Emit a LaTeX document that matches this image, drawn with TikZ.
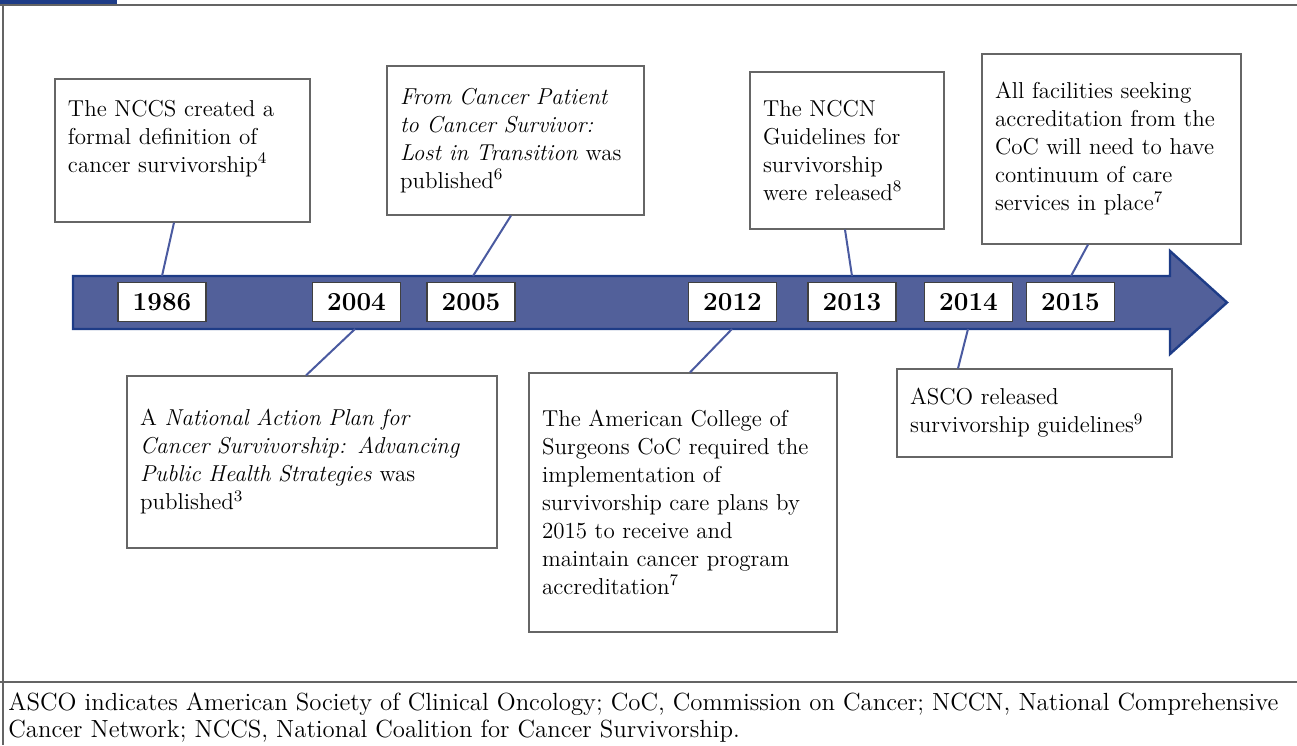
\documentclass[tikz,border=0pt]{standalone}
\usepackage{tikz}
\usetikzlibrary{calc}
\definecolor{tlfill}{RGB}{82,96,154}
\definecolor{tledge}{RGB}{30,60,135}
\definecolor{tllink}{RGB}{74,90,160}
\definecolor{framegray}{RGB}{100,100,100}

\begin{document}
\begin{tikzpicture}[x=0.5pt, y=-0.5pt,
    yearbox/.style={draw=black!75, fill=white, line width=0.6pt, minimum width=44pt,
      minimum height=19.5pt, inner sep=0pt, font=\fontsize{13}{15}\selectfont\bfseries},
    event/.style={draw=black!60, line width=0.6pt, align=left, inner xsep=6.5pt,
      inner ysep=0pt, font=\fontsize{11.5}{14}\selectfont},
    link/.style={tllink, line width=1pt}]
  \useasboundingbox (0,0) rectangle (1297,745);
  % frame
  \fill[tledge] (0,0) rectangle (117,5);
  \draw[framegray, line width=1pt] (0,5) -- (1297,5);
  \draw[framegray, line width=1pt] (3,5) -- (3,745);
  \draw[framegray, line width=1pt] (0,682) -- (1297,682);
  % timeline arrow
  \draw[fill=tlfill, draw=tledge, line width=1.2pt] (73,276) -- (1170,276) -- (1170,251)
    -- (1227,302.5) -- (1170,354) -- (1170,329) -- (73,329) -- cycle;
  \foreach \yr/\xx in {1986/162, 2004/356.5, 2005/471, 2012/732.5, 2013/852, 2014/968.5, 2015/1070.5}
    \node[yearbox] (y\yr) at (\xx,302) {\yr};
  % where the links meet the arrow
  \coordinate (a1986) at (162,276);
  \coordinate (a2005) at (473,276);
  \coordinate (a2013) at (852,276);
  \coordinate (a2015) at (1071,276);
  \coordinate (a2004) at (355,329);
  \coordinate (a2012) at (732,329);
  \coordinate (a2014) at (968,329);
  % events above
  \node[event, text width=114.5pt, minimum height=71.5pt] (ev1986) at (182.5,150.5)
    {The NCCS created a\\ formal definition of\\ cancer survivorship\textsuperscript{4}\\ \mbox{}};
  \node[event, text width=115.5pt, minimum height=74.5pt] (ev2005) at (515.5,140.5)
    {\textit{From Cancer Patient}\\ \textit{to Cancer Survivor:}\\ \textit{Lost in Transition} was\\ published\textsuperscript{6}};
  \node[event, text width=84pt, minimum height=78.5pt] (ev2013) at (847,150.5)
    {The NCCN\\ Guidelines for\\ survivorship\\ were released\textsuperscript{8}};
  \node[event, text width=116.5pt, minimum height=95pt] (ev2015) at (1111.5,149)
    {All facilities seeking\\ accreditation from the\\ CoC will need to have\\ continuum of care\\ services in place\textsuperscript{7}};
  % events below
  \node[event, text width=172pt, minimum height=86pt] (ev2004) at (312,462)
    {A \textit{National Action Plan for}\\ \textit{Cancer Survivorship: Advancing}\\ \textit{Public Health Strategies} was\\ published\textsuperscript{3}};
  \node[event, text width=141pt, minimum height=129.5pt] (ev2012) at (683,502.5)
    {The American College of\\ Surgeons CoC required the\\ implementation of\\ survivorship care plans by\\ 2015 to receive and\\ maintain cancer program\\ accreditation\textsuperscript{7}};
  \node[event, text width=124.5pt, minimum height=44pt] (ev2014) at (1034.5,413)
    {ASCO released\\ survivorship guidelines\textsuperscript{9}};
  % links
  \draw[link] ([xshift=-4.25pt]ev1986.south) -- (a1986);
  \draw[link] ([xshift=-2.25pt]ev2005.south) -- (a2005);
  \draw[link] ([xshift=-1pt]ev2013.south) -- (a2013);
  \draw[link] ([xshift=-11.75pt]ev2015.south) -- (a2015);
  \draw[link] ([xshift=-3pt]ev2004.north) -- (a2004);
  \draw[link] ([xshift=3.5pt]ev2012.north) -- (a2012);
  \draw[link] ([xshift=-38.25pt]ev2014.north) -- (a2014);
  % note
  \node[anchor=base west, align=left, inner sep=0pt, font=\fontsize{12.4}{13.5}\selectfont] (note) at (8,737)
    {ASCO indicates American Society of Clinical Oncology; CoC, Commission on Cancer; NCCN, National Comprehensive\\
     Cancer Network; NCCS, National Coalition for Cancer Survivorship.};
\end{tikzpicture}
\end{document}
